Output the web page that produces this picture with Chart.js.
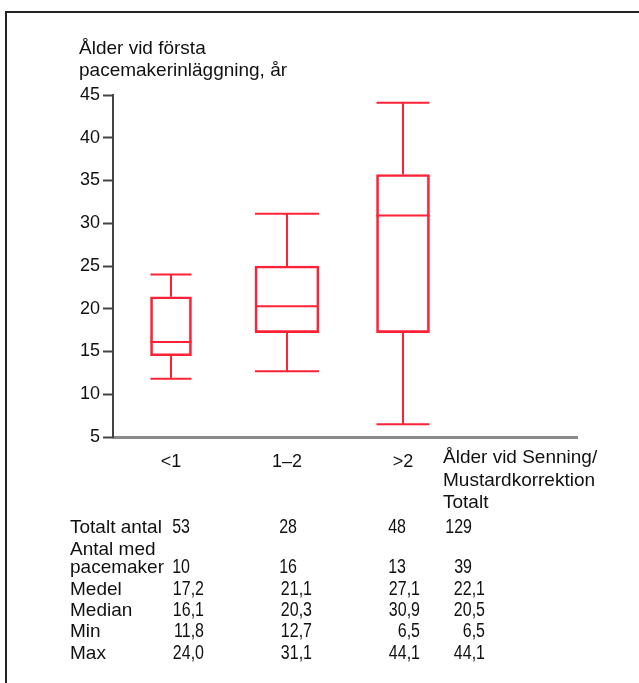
<!DOCTYPE html>
<html>
<head>
<meta charset="utf-8">
<script src="https://cdn.jsdelivr.net/npm/chart.js@4/dist/chart.umd.min.js"></script>
<style>
  body { margin: 0; background: #fff; }
  canvas { display: block; }
</style>
</head>
<body>
<canvas id="myChart" width="639" height="683"></canvas>
<script>
// categories: age at Senning/Mustard correction
const groups = ["<1", "1–2", ">2"];
const totalHeader = ["Ålder vid Senning/", "Mustardkorrektion", "Totalt"];

// box plot values (age at first pacemaker, years)
const q1Age = [14.5, 17.2, 17.2];
const q3Age = [21.4, 25.0, 35.7];
const medianAge = [16.1, 20.3, 30.9, 20.5];
const minAge = [11.8, 12.7, 6.5, 6.5];
const maxAge = [24.0, 31.1, 44.1, 44.1];
const meanAge = [17.2, 21.1, 27.1, 22.1];

// counts, last value is the total
const totalCount = [53, 28, 48, 129];
const pacemakerCount = [10, 16, 13, 39];

const yTicks = [5, 10, 15, 20, 25, 30, 35, 40, 45];

// layout / style
const RED = "#ff2236";
const boxWidths = [41, 64, 53];
const countRight = [190, 297, 406, 472];
const decRight = [204, 312, 420, 485];
const FAMILY = '"Liberation Sans", Arial, sans-serif';
const TEXT_FONT = "19px " + FAMILY;
const NUM_FONT = "20px " + FAMILY;
const NUM_SQUEEZE = 0.8;

const fmt = (v) => v.toFixed(1).replace(".", ",");

// condensed-looking numbers, right aligned at xr
function numText(ctx, s, xr, yb) {
   ctx.save();
   ctx.font = NUM_FONT;
   ctx.translate(xr, yb);
   ctx.scale(NUM_SQUEEZE, 1);
   ctx.textAlign = "right";
   ctx.fillText(s, 0, 0);
   ctx.restore();
}

const boxPlugin = {
   id: "boxExtras",
   afterDatasetsDraw(chart) {
      const ctx = chart.ctx;
      const y = chart.scales.y;
      ctx.save();
      ctx.strokeStyle = RED;
      ctx.lineWidth = 2;
      groups.forEach((g, i) => {
         const bar = chart.getDatasetMeta(i).data[i];
         const x = bar.x;
         const half = bar.width / 2;
         const line = (x1, y1, x2, y2) => {
            ctx.beginPath();
            ctx.moveTo(x1, y1);
            ctx.lineTo(x2, y2);
            ctx.stroke();
         };
         // whiskers
         line(x, y.getPixelForValue(q3Age[i]), x, y.getPixelForValue(maxAge[i]));
         line(x, y.getPixelForValue(q1Age[i]), x, y.getPixelForValue(minAge[i]));
         line(x - half, y.getPixelForValue(maxAge[i]), x + half, y.getPixelForValue(maxAge[i]));
         line(x - half, y.getPixelForValue(minAge[i]), x + half, y.getPixelForValue(minAge[i]));
         // median
         line(x - half, y.getPixelForValue(medianAge[i]), x + half, y.getPixelForValue(medianAge[i]));
      });
      ctx.restore();
   },
   afterDraw(chart) {
      const ctx = chart.ctx;
      ctx.save();
      // frame (top and left)
      ctx.strokeStyle = "#222";
      ctx.lineWidth = 2;
      ctx.beginPath();
      ctx.moveTo(639, 12);
      ctx.lineTo(6, 12);
      ctx.lineTo(6, 683);
      ctx.stroke();

      ctx.fillStyle = "#111";
      ctx.textBaseline = "alphabetic";
      ctx.font = TEXT_FONT;
      ctx.textAlign = "left";
      // y axis title
      ctx.fillText("Ålder vid första", 79, 54);
      ctx.fillText("pacemakerinläggning, år", 79, 76);
      // total column header
      totalHeader.forEach((t, k) => ctx.fillText(t, 443, 463 + k * 22.5));
      // row labels
      ctx.fillText("Totalt antal", 70, 533);
      ctx.fillText("Antal med", 70, 555);
      ctx.fillText("pacemaker", 70, 573);
      ctx.fillText("Medel", 70, 595);
      ctx.fillText("Median", 70, 616);
      ctx.fillText("Min", 70, 637);
      ctx.fillText("Max", 70, 659);

      totalCount.forEach((v, i) => numText(ctx, String(v), countRight[i], 533));
      pacemakerCount.forEach((v, i) => numText(ctx, String(v), countRight[i], 573));
      meanAge.forEach((v, i) => numText(ctx, fmt(v), decRight[i], 595));
      medianAge.forEach((v, i) => numText(ctx, fmt(v), decRight[i], 616));
      minAge.forEach((v, i) => numText(ctx, fmt(v), decRight[i], 637));
      maxAge.forEach((v, i) => numText(ctx, fmt(v), decRight[i], 659));
      ctx.restore();
   },
};

const ctx = document.getElementById("myChart").getContext("2d");
new Chart(ctx, {
   type: "bar",
   data: {
      labels: [...groups, ""],
      datasets: groups.map((g, i) => ({
         label: g,
         data: groups.map((_, j) => (j === i ? [q1Age[i], q3Age[i]] : null)),
         backgroundColor: "rgba(255,255,255,0)",
         borderColor: RED,
         borderWidth: 2,
         borderSkipped: false,
         barThickness: boxWidths[i],
         grouped: false,
      })),
   },
   options: {
      responsive: false,
      animation: false,
      layout: {
         padding: { top: 95, right: 62, left: 0, bottom: 0 },
      },
      plugins: {
         legend: { display: false },
         tooltip: { enabled: false },
      },
      scales: {
         x: {
            type: "category",
            offset: true,
            grid: { display: false },
            border: { display: true, color: "#8a8a8a", width: 3 },
            ticks: {
               color: "#111",
               font: { family: FAMILY, size: 18 },
               padding: 6,
               maxRotation: 0,
               autoSkip: false,
            },
            afterFit: (scale) => {
               scale.height = 683 - 437;
            },
         },
         y: {
            min: 5,
            max: 45,
            afterBuildTicks: (scale) => {
               scale.ticks = yTicks.map((v) => ({ value: v }));
            },
            grid: {
               display: true,
               drawOnChartArea: false,
               drawTicks: true,
               tickLength: 10,
               tickWidth: 2,
               tickColor: "#444",
            },
            border: { display: true, color: "#444", width: 2 },
            ticks: {
               color: "#111",
               padding: 3,
               font: { family: FAMILY, size: 18 },
            },
            afterFit: (scale) => {
               scale.width = 113;
            },
         },
      },
   },
   plugins: [boxPlugin],
});
</script>
</body>
</html>
